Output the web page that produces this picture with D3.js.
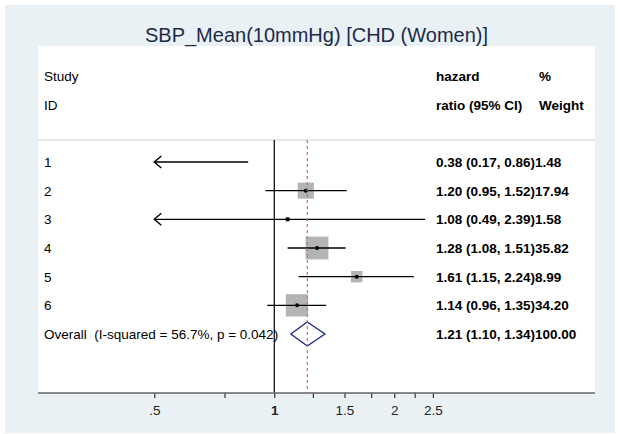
<!DOCTYPE html>
<html>
<head>
<meta charset="utf-8">
<script src="https://cdn.jsdelivr.net/npm/d3@7"></script>
<style>
  body { margin: 0; background: #fff; }
  text { font-family: "Liberation Sans", Arial, sans-serif; white-space: pre; }
</style>
</head>
<body>
<div id="canvas"></div>
<script>
"use strict"

let drawingWidth = 620;
let drawingHeight = 434;

// study data
let studies = ["1", "2", "3", "4", "5", "6"];
let hazard = [0.38, 1.20, 1.08, 1.28, 1.61, 1.14];
let lower = [0.17, 0.95, 0.49, 1.08, 1.15, 0.96];
let upper = [0.86, 1.52, 2.39, 1.51, 2.24, 1.35];
let weights = [1.48, 17.94, 1.58, 35.82, 8.99, 34.20];

let overallLabel = "Overall  (I-squared = 56.7%, p = 0.042)";
let overall = [1.21, 1.10, 1.34];
let overallWeight = 100.00;

let tickValues = [0.5, 0.75, 1, 1.25, 1.5, 1.75, 2, 2.25, 2.5];
let tickLabels = [".5", "", "1", "", "1.5", "", "2", "", "2.5"];

let plotLeft = 38, plotRight = 595, plotTop = 46, axisY = 393;

let drawing = d3.select("#canvas")
    .append("svg")
    .attr("width", drawingWidth)
    .attr("height", drawingHeight);

/* outer background and white plot region */
drawing.append("rect")
    .attr("x", 5).attr("y", 5)
    .attr("width", 610).attr("height", 428)
    .attr("fill", "#e9f1f4");

drawing.append("rect")
    .attr("x", plotLeft).attr("y", plotTop)
    .attr("width", plotRight - plotLeft).attr("height", axisY - plotTop)
    .attr("fill", "white");

drawing.append("text")
    .attr("x", (plotLeft + plotRight) / 2)
    .attr("y", 42)
    .attr("text-anchor", "middle")
    .attr("font-size", 20)
    .attr("fill", "#1e2a4a")
    .text("SBP_Mean(10mmHg) [CHD (Women)]");

let x = d3.scaleLog().domain([0.5, 2.5]).range([154.3, 432.9]);
let row = d3.scaleLinear().domain([0, 9]).range([76, 334]);
let side = d3.scaleSqrt().domain([0, 35.82]).range([0, 22.8]);

/* header */
let leftX = 44, ciX = 436, wX = 539;
function label(tx, ty, str, bold) {
    drawing.append("text")
        .attr("x", tx).attr("y", ty).attr("dy", "0.36em")
        .attr("font-size", 13.5)
        .attr("font-weight", bold ? "bold" : "normal")
        .attr("fill", "black")
        .text(str);
}
label(leftX, row(0), "Study", false);
label(leftX, row(1), "ID", false);
label(ciX, row(0), "hazard", true);
label(wX, row(0), "%", true);
label(ciX, row(1), "ratio (95% CI)", true);
label(wX, row(1), "Weight", true);

drawing.append("line")
    .attr("x1", plotLeft).attr("x2", plotRight)
    .attr("y1", 140).attr("y2", 140)
    .attr("stroke", "#cfcfcf").attr("stroke-width", 1.2);

/* null line */
drawing.append("line")
    .attr("x1", x(1)).attr("x2", x(1))
    .attr("y1", 140).attr("y2", axisY)
    .attr("stroke", "black").attr("stroke-width", 1.2);

/* studies */
studies.forEach(function (s, i) {
    let cy = row(i + 3);
    label(leftX, cy, s, false);
    label(ciX, cy, hazard[i].toFixed(2) + " (" + lower[i].toFixed(2) + ", " +
        upper[i].toFixed(2) + ")" + weights[i].toFixed(2), true);

    let inRange = hazard[i] >= 0.5 && hazard[i] <= 2.5;
    if (inRange) {
        let sz = side(weights[i]);
        drawing.append("rect")
            .attr("x", x(hazard[i]) - sz / 2).attr("y", cy - sz / 2)
            .attr("width", sz).attr("height", sz)
            .attr("fill", "#b4b4b4");
    }

    let x1 = x(Math.max(lower[i], 0.5));
    let x2 = x(Math.min(upper[i], 2.5));
    drawing.append("line")
        .attr("x1", x1).attr("x2", x2)
        .attr("y1", cy).attr("y2", cy)
        .attr("stroke", "black").attr("stroke-width", 1.4);

    if (lower[i] < 0.5) {
        drawing.append("polyline")
            .attr("points", [[x1 + 7, cy - 6], [x1, cy], [x1 + 7, cy + 6]].join(" "))
            .attr("fill", "none")
            .attr("stroke", "black").attr("stroke-width", 1.4);
    }
    if (upper[i] > 2.5) {
        drawing.append("polyline")
            .attr("points", [[x2 - 7, cy - 6], [x2, cy], [x2 - 7, cy + 6]].join(" "))
            .attr("fill", "none")
            .attr("stroke", "black").attr("stroke-width", 1.4);
    }

    if (inRange) {
        drawing.append("circle")
            .attr("cx", x(hazard[i])).attr("cy", cy)
            .attr("r", 2).attr("fill", "black");
    }
});

/* overall diamond */
let oy = row(9);
label(leftX, oy, overallLabel, false);
label(ciX, oy, overall[0].toFixed(2) + " (" + overall[1].toFixed(2) + ", " +
    overall[2].toFixed(2) + ")" + overallWeight.toFixed(2), true);

drawing.append("polygon")
    .attr("points", [[x(overall[1]), oy], [x(overall[0]), oy - 12],
        [x(overall[2]), oy], [x(overall[0]), oy + 12]].join(" "))
    .attr("fill", "white")
    .attr("stroke", "#1a2380").attr("stroke-width", 1.3);

drawing.append("line")
    .attr("x1", x(overall[0])).attr("x2", x(overall[0]))
    .attr("y1", 140).attr("y2", axisY)
    .attr("stroke", "#c0707a").attr("stroke-width", 1.2)
    .attr("stroke-dasharray", "3,3");

/* x axis */
let axis = d3.axisBottom(x)
    .tickValues(tickValues)
    .tickSize(5)
    .tickFormat(function (d, i) { return tickLabels[i]; });

let gAxis = drawing.append("g")
    .attr("transform", "translate(0," + axisY + ")")
    .call(axis);
gAxis.select(".domain").remove();
gAxis.selectAll(".tick line").attr("stroke", "#333").attr("stroke-width", 1.2);
gAxis.selectAll(".tick text")
    .attr("font-family", "Liberation Sans, Arial, sans-serif")
    .attr("font-size", 13.5)
    .attr("fill", "#222")
    .attr("y", 12)
    .attr("font-weight", function (d) { return d === 1 ? "bold" : "normal"; });

drawing.append("line")
    .attr("x1", plotLeft).attr("x2", plotRight)
    .attr("y1", axisY).attr("y2", axisY)
    .attr("stroke", "#666").attr("stroke-width", 1.6);
</script>
</body>
</html>
